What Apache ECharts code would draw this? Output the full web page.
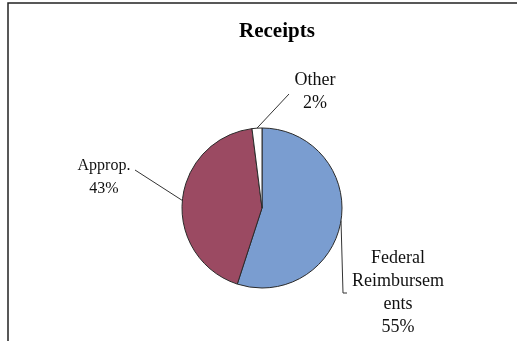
<!DOCTYPE html>
<html>
<head>
<meta charset="utf-8">
<script src="https://cdn.jsdelivr.net/npm/echarts@6/dist/echarts.min.js"></script>
<style>
  html, body { margin: 0; padding: 0; background: #fff; }
  #chart { width: 517px; height: 341px; }
</style>
</head>
<body>
<div id="chart"></div>
<script>
// data
const names = ["Federal Reimbursements", "Approp.", "Other"];
const values = [55, 43, 2];
const labelTexts = ["Federal\nReimbursem\nents", "Approp.", "Other"];
const colors = ["#7a9dd0", "#9b4a62", "#ffffff"];

// where each label block sits, and the bend of its leader line
const labelSpots = [
  { x: 398, y: 293, size: 18, bend: [[343, 293], [347, 293]] },
  { x: 104, y: 177, size: 16, bend: [[135, 170]] },
  { x: 315, y: 92, size: 18, bend: [[289, 94]] }
];

const chart = echarts.init(document.getElementById("chart"));

const option = {
  animation: false,
  title: {
    text: "Receipts",
    left: 234,
    top: 16,
    textStyle: {
      fontFamily: "Liberation Serif",
      fontSize: 21,
      fontWeight: "bold",
      color: "#000"
    }
  },
  graphic: [
    {
      type: "polyline",
      shape: { points: [[8, 341], [8, 3], [517, 3]] },
      style: { stroke: "#222", lineWidth: 1.5, fill: null }
    }
  ],
  series: [
    {
      type: "pie",
      center: [262, 208],
      radius: 80,
      startAngle: 90,
      clockwise: true,
      itemStyle: { borderColor: "#2a2a2a", borderWidth: 1 },
      label: {
        show: true,
        formatter: (p) => labelTexts[p.dataIndex] + "\n" + p.percent + "%",
        fontFamily: "Liberation Serif",
        fontSize: 16,
        lineHeight: 23,
        color: "#111",
        align: "center"
      },
      labelLine: {
        show: true,
        lineStyle: { color: "#333", width: 1 }
      },
      labelLayout: (params) => {
        const s = labelSpots[params.dataIndex];
        const start = params.labelLinePoints ? params.labelLinePoints[0] : s.bend[0];
        return {
          x: s.x,
          y: s.y,
          align: "center",
          verticalAlign: "middle",
          labelLinePoints: [start].concat(s.bend)
        };
      },
      data: names.map((n, i) => ({
        name: n,
        value: values[i],
        itemStyle: { color: colors[i] },
        label: { fontSize: labelSpots[i].size }
      }))
    }
  ]
};

chart.setOption(option);
</script>
</body>
</html>
